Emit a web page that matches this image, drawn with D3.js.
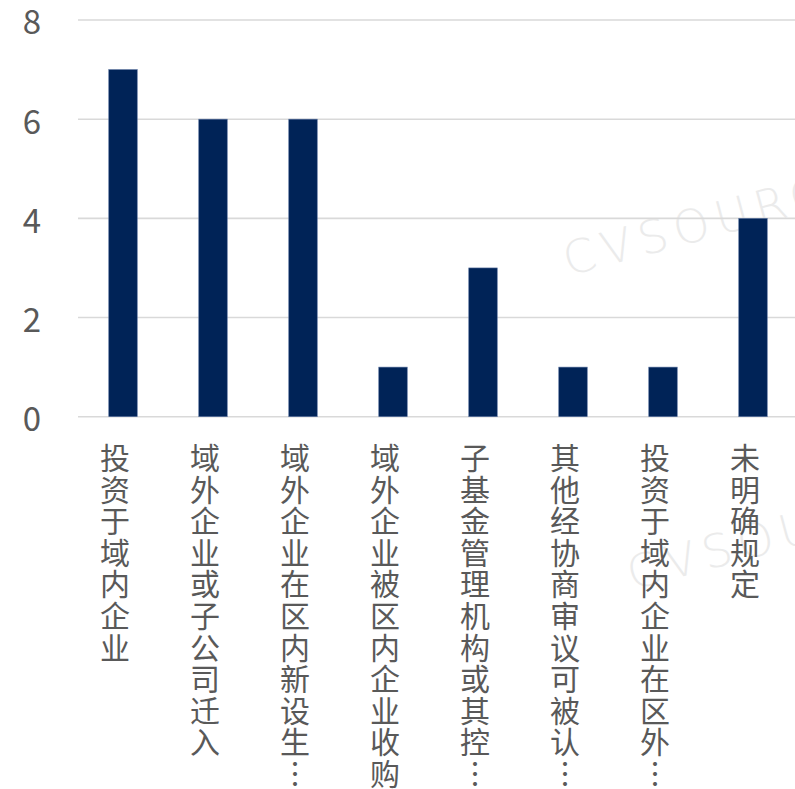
<!DOCTYPE html>
<html>
<head>
<meta charset="utf-8">
<script src="https://cdn.jsdelivr.net/npm/d3@7"></script>
<style>
  html, body { margin: 0; padding: 0; background: #ffffff; }
  svg { display: block; }
</style>
</head>
<body>
<svg id="chart" width="795" height="789"></svg>
<script>
// Category labels (as shown on the axis) and counts
const categories = [
  "投资于域内企业",
  "域外企业或子公司迁入",
  "域外企业在区内新设生…",
  "域外企业被区内企业收购",
  "子基金管理机构或其控…",
  "其他经协商审议可被认…",
  "投资于域内企业在区外…",
  "未明确规定"
];
const counts = [7, 6, 6, 1, 3, 1, 1, 4];
const yTicks = [0, 2, 4, 6, 8];

const svg = d3.select("#chart");
const W = 795, H = 789;

const x = d3.scaleBand().domain(categories).range([78, 798]).padding(0);
const y = d3.scaleLinear().domain([0, 8]).range([416.7, 20]);

const textColor = "#595959";
const font = "'Noto Sans CJK SC', 'Noto Sans', sans-serif";

// Watermarks
const wm = svg.append("g").attr("fill", "#ebebeb").attr("font-family", "'DejaVu Sans', sans-serif")
  .attr("font-weight", "200").attr("font-size", 46).attr("letter-spacing", 7);
wm.append("text").attr("transform", "translate(568,276) rotate(-15)").text("CVSOURCE");
wm.append("text").attr("transform", "translate(632,590) rotate(-15)").text("CVSOURCE");

// Horizontal gridlines
svg.append("g").selectAll("line").data(yTicks).join("line")
  .attr("x1", 78).attr("x2", W)
  .attr("y1", d => y(d)).attr("y2", d => y(d))
  .attr("stroke", "#d9d9d9").attr("stroke-width", 1.6);

// Y axis tick labels
const yAxis = d3.axisLeft(y).tickValues(yTicks).tickSize(0).tickPadding(0);
const yg = svg.append("g").attr("transform", "translate(41,0)").call(yAxis);
yg.select(".domain").remove();
yg.selectAll("text")
  .attr("font-family", font).attr("font-size", 33).attr("fill", textColor)
  .attr("dy", "0.42em");

// Bars
const barW = 28.5;
svg.append("g").selectAll("rect").data(categories).join("rect")
  .attr("x", d => x(d) + x.bandwidth() / 2 - barW / 2)
  .attr("width", barW)
  .attr("y", (d, i) => y(counts[i]))
  .attr("height", (d, i) => y(0) - y(counts[i]))
  .attr("fill", "#002357")
  .attr("stroke", "#5b74a0").attr("stroke-width", 0.6);

// Vertical category labels, one character per line
const pitch = 31.6;
const lab = svg.append("g").attr("font-family", font).attr("font-size", 30).attr("fill", textColor);
categories.forEach(c => {
  const cx = x(c) + x.bandwidth() / 2 - 8;
  Array.from(c).forEach((ch, j) => {
    lab.append("text")
      .attr("x", cx).attr("y", 456 + j * pitch)
      .attr("text-anchor", "middle")
      .attr("dominant-baseline", "central")
      .text(ch === "…" ? "︙" : ch);
  });
});
</script>
</body>
</html>
